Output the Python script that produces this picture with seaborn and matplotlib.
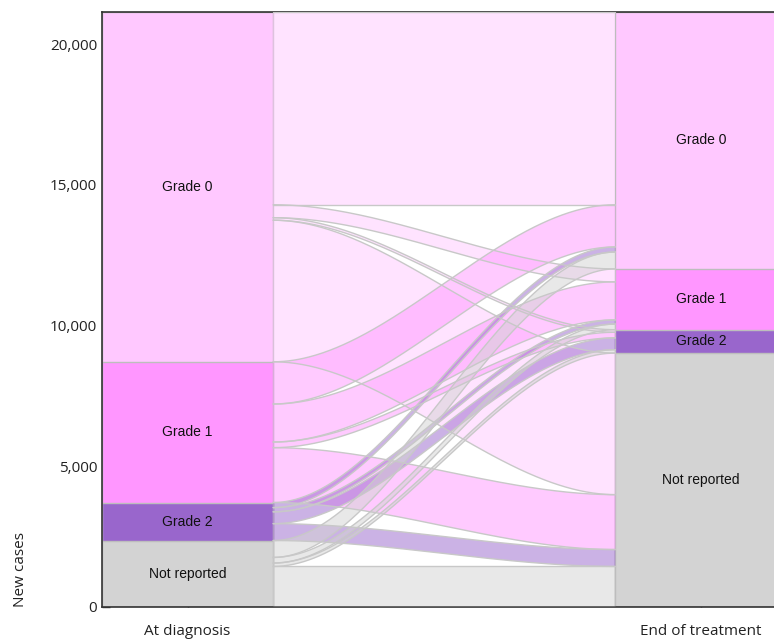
import matplotlib
matplotlib.use("Agg")
import matplotlib.pyplot as plt
import numpy as np
import pandas as pd
import seaborn as sns

# Data (new cases)
stages = ["At diagnosis", "End of treatment"]
grades = ["Grade 0", "Grade 1", "Grade 2", "Not reported"]
grade_colors = ["#ffc8ff", "#ff96ff", "#9966cc", "#d3d3d3"]

origin = ["Grade 0", "Grade 0", "Grade 0", "Grade 0",
          "Grade 1", "Grade 1", "Grade 1", "Grade 1",
          "Grade 2", "Grade 2", "Grade 2", "Grade 2",
          "Not reported", "Not reported", "Not reported", "Not reported"]
destination = ["Grade 0", "Grade 1", "Grade 2", "Not reported"] * 4
cases = [6850, 460, 90, 5030,
         1500, 1350, 200, 1950,
         180, 150, 420, 600,
         600, 200, 120, 1440]

flows = pd.DataFrame({"origin": origin, "destination": destination, "cases": cases})

sns.set_style("white")
plt.rcParams["font.family"] = ["Open Sans", "DejaVu Sans"]

fig = plt.figure(figsize=(7.74, 6.44), dpi=100)
ax = fig.add_axes([0.1318, 0.0575, 0.8682, 0.924])

# strata totals, stacked with "Not reported" at the bottom
left_tot = flows.groupby("origin")["cases"].sum().reindex(grades)
right_tot = flows.groupby("destination")["cases"].sum().reindex(grades)
total = left_tot.sum()


def stack_tops(tot):
    # top of each stratum, grades listed top -> bottom
    tops = {}
    level = 0
    for g in reversed(grades):
        level += tot[g]
        tops[g] = level
    return tops


left_tops = stack_tops(left_tot)
right_tops = stack_tops(right_tot)

# strata as layered bars (tallest first)
strata = pd.DataFrame({
    "stage": [s for s in stages for g in grades],
    "grade": grades * 2,
    "top": [left_tops[g] for g in grades] + [right_tops[g] for g in grades],
})
for g, c in zip(grades, grade_colors):
    sns.barplot(data=strata[strata["grade"] == g], x="stage", y="top", order=stages,
                color=c, width=1/3, errorbar=None, edgecolor="#bdbdbd",
                linewidth=1, saturation=1, ax=ax)

# flows
x0, x1 = 1/6, 5/6
xs = np.linspace(x0, x1, 200)
t = (xs - x0) / (x1 - x0)
s = t * t * (3 - 2 * t)

left_pos = {g: left_tops[g] for g in grades}
right_pos = {g: right_tops[g] for g in grades}
spans = []
for o in grades:
    for d in grades:
        v = flows[(flows.origin == o) & (flows.destination == d)]["cases"].sum()
        lt = left_pos[o]
        left_pos[o] -= v
        spans.append((o, d, v, lt))
spans_r = {}
for d in grades:
    for o in grades:
        v = flows[(flows.origin == o) & (flows.destination == d)]["cases"].sum()
        spans_r[(o, d)] = right_pos[d]
        right_pos[d] -= v

color_of = dict(zip(grades, grade_colors))
for o, d, v, lt in spans:
    rt = spans_r[(o, d)]
    top = lt + (rt - lt) * s
    bot = top - v
    ax.fill_between(xs, bot, top, facecolor=color_of[o], alpha=0.5,
                    edgecolor="none", zorder=2)
    ax.plot(xs, top, color="#c8c8c8", lw=1, zorder=3)
    ax.plot(xs, bot, color="#c8c8c8", lw=1, zorder=3)

# stratum labels
for i, tops in enumerate([left_tops, right_tops]):
    tot = left_tot if i == 0 else right_tot
    for g in grades:
        ax.text(i, tops[g] - tot[g] / 2, g, ha="center", va="center",
                fontsize=10, family="Liberation Sans", color="#111111", zorder=5)

ax.set_xlim(-1/6, 1 + 73/513)
ax.set_ylim(0, total)
ax.set_yticks([0, 5000, 10000, 15000, 20000])
ax.set_yticklabels(["0", "5,000", "10,000", "15,000", "20,000"])
ax.tick_params(axis="both", direction="in", length=6, width=1, colors="#333333",
               labelsize=11, labelcolor="#222222", left=True, bottom=True)
ax.tick_params(axis="x", pad=12)
ax.set_xlabel("")
ax.set_ylabel("New cases", fontsize=11, loc="bottom", labelpad=16, color="#222222")
for side in ["left", "bottom", "top"]:
    ax.spines[side].set_color("#333333")
    ax.spines[side].set_linewidth(1.2)
ax.spines["right"].set_visible(False)

fig.savefig("out.png", dpi=100)
